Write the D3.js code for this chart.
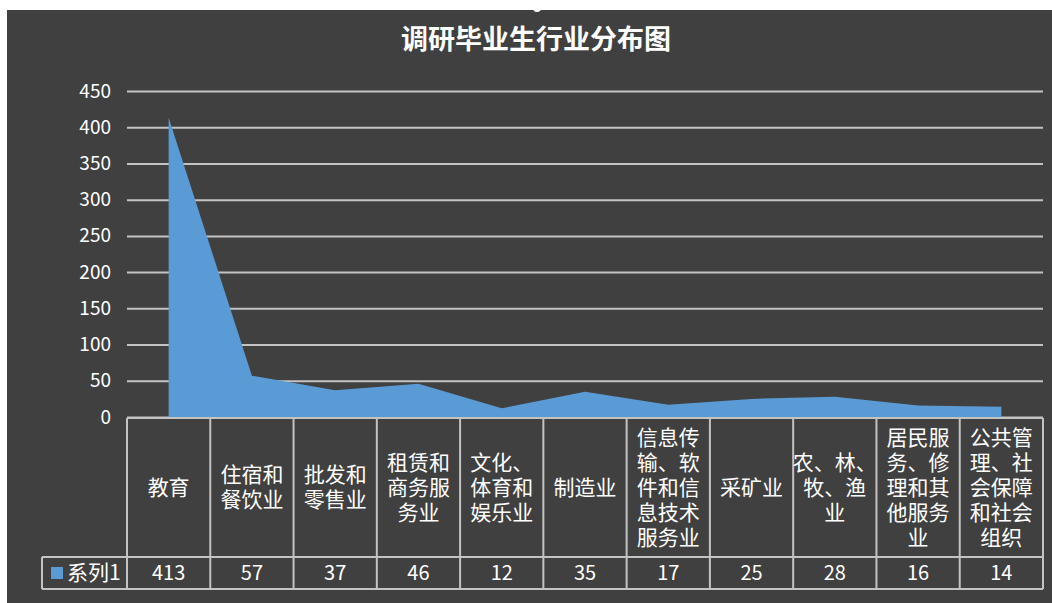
<!DOCTYPE html>
<html>
<head>
<meta charset="utf-8">
<script src="https://cdn.jsdelivr.net/npm/d3@7"></script>
<style>
  html, body { margin: 0; padding: 0; background: #ffffff; }
  svg { display: block; }
  text { font-family: "Noto Sans CJK SC", "Noto Sans", sans-serif; }
</style>
</head>
<body>
<svg id="chart" width="1052" height="603"></svg>
<script>
const title = "调研毕业生行业分布图";
const seriesName = "系列1";
const categories = ["教育", "住宿和餐饮业", "批发和零售业", "租赁和商务服务业", "文化、体育和娱乐业", "制造业", "信息传输、软件和信息技术服务业", "采矿业", "农、林、牧、渔业", "居民服务、修理和其他服务业", "公共管理、社会保障和社会组织"];
const values = [413, 57, 37, 46, 12, 35, 17, 25, 28, 16, 14];
const yTicks = [0, 50, 100, 150, 200, 250, 300, 350, 400, 450];

const W = 1052, H = 603;
const bg = "#404040", lineCol = "#c3c3c3", fill = "#5b9bd5";
const plot = { left: 127, right: 1043, top: 91, bottom: 417 };
const table = { top: 418, mid: 557, bottom: 589, legendLeft: 42 };

const svg = d3.select("#chart");
svg.append("rect").attr("width", W).attr("height", H).attr("fill", "#ffffff");
svg.append("rect").attr("x", 7).attr("y", 10).attr("width", W - 7).attr("height", H - 10).attr("fill", bg);
svg.append("circle").attr("cx", 537).attr("cy", 8).attr("r", 4).attr("fill", "#ffffff");

const x = d3.scaleBand().domain(categories).range([plot.left, plot.right]);
const y = d3.scaleLinear().domain([0, 450]).range([plot.bottom, plot.top]);

// title
svg.append("text").attr("x", 536).attr("y", 40).attr("dy", "0.35em")
  .attr("text-anchor", "middle").attr("fill", "#ffffff")
  .attr("font-size", 27).attr("font-weight", "bold").text(title);

// y axis + gridlines
const yAxis = d3.axisLeft(y).tickValues(yTicks).tickSize(-(plot.right - plot.left)).tickPadding(16);
const gy = svg.append("g").attr("transform", `translate(${plot.left},0)`).call(yAxis);
gy.select(".domain").remove();
gy.selectAll(".tick line").attr("stroke", lineCol).attr("stroke-width", 2);
gy.selectAll(".tick text").attr("fill", "#ffffff").attr("font-size", 19).attr("font-family", "\"Noto Sans CJK SC\", sans-serif");

// area
const data = categories.map((c, i) => ({ c, v: values[i] }));
const area = d3.area()
  .x(d => x(d.c) + x.bandwidth() / 2)
  .y0(y(0))
  .y1(d => y(d.v));
svg.append("path").datum(data).attr("d", area).attr("fill", fill);

// data table lines
const tg = svg.append("g").attr("stroke", lineCol).attr("stroke-width", 2);
tg.append("line").attr("x1", plot.left).attr("x2", plot.right).attr("y1", table.top).attr("y2", table.top);
tg.append("line").attr("x1", table.legendLeft).attr("x2", plot.right).attr("y1", table.mid).attr("y2", table.mid);
tg.append("line").attr("x1", table.legendLeft).attr("x2", plot.right).attr("y1", table.bottom).attr("y2", table.bottom);
tg.append("line").attr("x1", table.legendLeft).attr("x2", table.legendLeft).attr("y1", table.mid).attr("y2", table.bottom);
const bounds = categories.map(c => x(c)).concat([plot.right]);
tg.selectAll("line.v").data(bounds).enter().append("line").attr("class", "v")
  .attr("x1", d => d).attr("x2", d => d).attr("y1", table.top).attr("y2", table.bottom);

// wrap labels: 3 chars per line, keep "、" with previous line
function wrap(s) {
  const chars = Array.from(s), lines = [];
  let cur = "";
  for (const ch of chars) {
    if (Array.from(cur).length >= 3 && ch !== "、") { lines.push(cur); cur = ""; }
    cur += ch;
  }
  if (cur) lines.push(cur);
  return lines;
}
const lh = 25, cy = (table.top + table.mid) / 2;
categories.forEach(c => {
  const lines = wrap(c);
  const t = svg.append("text").attr("text-anchor", "middle").attr("fill", "#ffffff").attr("font-size", 21);
  lines.forEach((ln, i) => {
    t.append("tspan").attr("x", x(c) + x.bandwidth() / 2)
      .attr("y", cy + (i - (lines.length - 1) / 2) * lh).attr("dy", "0.35em").text(ln);
  });
});

// values row
const vy = (table.mid + table.bottom) / 2;
svg.selectAll("text.val").data(data).enter().append("text").attr("class", "val")
  .attr("x", d => x(d.c) + x.bandwidth() / 2).attr("y", vy).attr("dy", "0.35em")
  .attr("text-anchor", "middle").attr("fill", "#ffffff").attr("font-size", 20)
  .text(d => d.v);

// legend key
svg.append("rect").attr("x", 51).attr("y", 567).attr("width", 12).attr("height", 12).attr("fill", fill);
svg.append("text").attr("x", 67).attr("y", vy).attr("dy", "0.35em").attr("fill", "#ffffff")
  .attr("font-size", 21).text(seriesName);
</script>
</body>
</html>
